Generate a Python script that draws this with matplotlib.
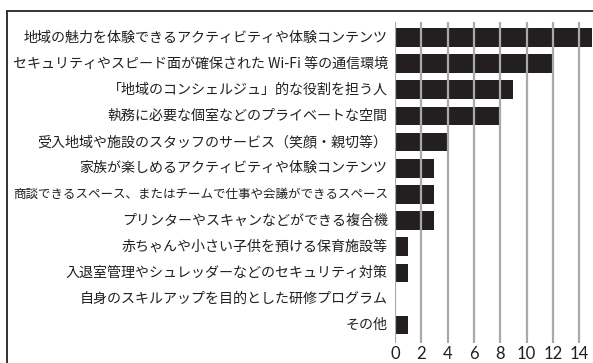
import numpy as np
import matplotlib.pyplot as plt
from matplotlib.lines import Line2D

plt.rcParams['font.family'] = ['Noto Sans CJK JP', 'DejaVu Sans']

# ---------------------------- data ---------------------------- #
labels = [
    '地域の魅力を体験できるアクティビティや体験コンテンツ',
    'セキュリティやスピード面が確保された Wi-Fi 等の通信環境',
    '「地域のコンシェルジュ」的な役割を担う人',
    '執務に必要な個室などのプライベートな空間',
    '受入地域や施設のスタッフのサービス（笑顔・親切等）',
    '家族が楽しめるアクティビティや体験コンテンツ',
    '商談できるスペース、またはチームで仕事や会議ができるスペース',
    'プリンターやスキャンなどができる複合機',
    '赤ちゃんや小さい子供を預ける保育施設等',
    '入退室管理やシュレッダーなどのセキュリティ対策',
    '自身のスキルアップを目的とした研修プログラム',
    'その他',
]
counts = [15, 12, 9, 8, 4, 3, 3, 3, 1, 1, 0, 1]
xticks = [0, 2, 4, 6, 8, 10, 12, 14]

# ---------------------------- style --------------------------- #
bar_color = '#231f20'
grid_color = '#a7a9ac'
text_color = '#231f20'

W, H = 593, 363
fig = plt.figure(figsize=(W / 100, H / 100), dpi=100)
fig.patch.set_facecolor('white')

# axes placed in pixel terms: x from 395 to 593, y from 22 to 343
ax = fig.add_axes([395 / W, 1 - 343 / H, (593 - 395) / W, (343 - 22) / H])
ax.set_facecolor('none')

y = np.arange(len(labels))
ax.barh(y, counts, height=0.71, color=bar_color, zorder=1)

for t in xticks:
    ax.axvline(t, color=grid_color, lw=1.6, zorder=2)

ax.set_xlim(0, 15.05)
ax.set_ylim(len(labels) - 1 + 0.68, -0.59)

ax.set_xticks(xticks)
ax.set_xticklabels([str(t) for t in xticks], fontsize=12,
                   family=['Lato', 'DejaVu Sans'], color=text_color)
ax.tick_params(axis='x', length=0, pad=2)
ax.set_yticks([])
for s in ax.spines.values():
    s.set_visible(False)

# category labels, right aligned just left of the bars
for i, lab in enumerate(labels):
    fs = 9.0 if i == 6 else 10.1
    ax.text(-0.55, i, lab, ha='right', va='center', fontsize=fs,
            color=text_color, clip_on=False)

# outer frame (top and left edges)
fig.add_artist(Line2D([7 / W, 1], [1 - 11 / H, 1 - 11 / H],
                      transform=fig.transFigure, color='#333333', lw=1.4))
fig.add_artist(Line2D([7 / W, 7 / W], [0, 1 - 11 / H],
                      transform=fig.transFigure, color='#333333', lw=1.4))

fig.savefig('out.png', dpi=100, facecolor='white')
